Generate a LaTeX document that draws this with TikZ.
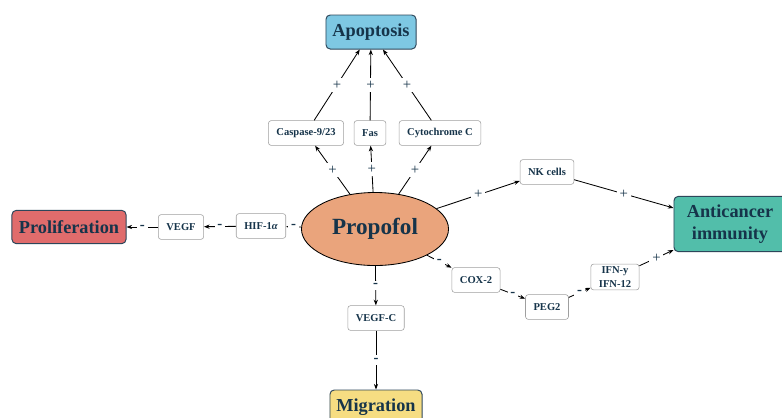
\documentclass[tikz,border=0pt]{standalone}
\usepackage{fontspec}
\setmainfont{Liberation Serif}
\usetikzlibrary{positioning, shapes.geometric, arrows.meta}
\definecolor{navyText}{RGB}{22, 52, 74}
\definecolor{boxEdge}{RGB}{45, 70, 90}
\definecolor{apopBlue}{RGB}{126, 200, 227}
\definecolor{prolRed}{RGB}{224, 108, 108}
\definecolor{immuGreen}{RGB}{82, 190, 170}
\definecolor{migrYellow}{RGB}{246, 221, 130}
\definecolor{propOrange}{RGB}{234, 164, 124}

\begin{document}
\begin{tikzpicture}[
    x=0.025cm, y=-0.025cm,
    outcome/.style={rectangle, draw=boxEdge, line width=0.7pt, rounded corners=3pt,
                    font=\fontsize{13}{16}\selectfont\bfseries, text=navyText,
                    align=center, inner sep=0pt},
    factor/.style={rectangle, draw=gray!75, fill=white, rounded corners=2pt,
                   font=\fontsize{7.5}{9.5}\selectfont\bfseries, text=navyText,
                   align=center, inner xsep=0.2cm, inner ysep=2pt, minimum height=0.62cm},
    drug/.style={ellipse, draw=black, line width=0.6pt, fill=propOrange, inner sep=0pt,
                 minimum width=3.675cm, minimum height=1.825cm,
                 font=\fontsize{16.5}{18}\selectfont\bfseries, text=navyText},
    link/.style={-{Stealth[length=4pt, width=3pt]}, line width=0.6pt, black},
    effect/.style={midway, fill=white, inner sep=2pt,
                   font=\fontsize{10.5}{10.5}\selectfont, text=navyText},
  ]
    \useasboundingbox (0,0) rectangle (782,417);

    % Propofol
    \node[drug] (propofol) at (375,229) {Propofol};

    % Outcomes
    \node[outcome, fill=apopBlue, minimum width=2.25cm, minimum height=0.85cm] (apoptosis) at (371,32) {Apoptosis};
    \node[outcome, fill=prolRed, minimum width=2.85cm, minimum height=0.83cm] (prolif) at (69,227) {Proliferation};
    \node[outcome, fill=immuGreen, minimum width=2.8cm, minimum height=1.38cm] (immunity) at (730,224) {Anticancer\\immunity};
    \node[outcome, fill=migrYellow, minimum width=2.3cm, minimum height=0.85cm] (migration) at (376,407) {Migration};

    % Apoptosis branch
    \foreach \x/\name/\txt in {306/casp/{Caspase-9/23}, 370/fas/Fas, 440/cytc/Cytochrome C} {
      \node[factor] (\name) at (\x,133) {\txt};
      \draw[link] (propofol) -- node[effect] {+} (\name);
      \draw[link] (\name) -- node[effect] {+} (apoptosis);
    }

    % Proliferation branch
    \node[factor] (hif) at (261,226) {HIF-1\textit{α}};
    \node[factor] (vegf) at (181,227) {VEGF};
    \draw[link] (propofol) -- node[effect] {\textbf{-}} (hif);
    \draw[link] (hif) -- node[effect] {\textbf{-}} (vegf);
    \draw[link] (vegf) -- node[effect] {\textbf{-}} (prolif);

    % Migration branch
    \node[factor] (vegfc) at (376,318) {VEGF-C};
    \draw[link] (propofol) -- node[effect] {\textbf{-}} (vegfc);
    \draw[link] (vegfc) -- node[effect] {\textbf{-}} (migration);

    % Immunity branch
    \node[factor] (nk) at (547,172) {NK cells};
    \node[factor] (cox) at (476,280) {COX-2};
    \node[factor] (peg) at (547,307) {PEG2};
    \node[factor] (ifn) at (615,277) {IFN-y\\IFN-12};
    \draw[link] (propofol) -- node[effect] {+} (nk);
    \draw[link] (nk) -- node[effect] {+} (immunity);
    \draw[link] (propofol) -- node[effect] {\textbf{-}} (cox);
    \draw[link] (cox) -- node[effect] {\textbf{-}} (peg);
    \draw[link] (peg) -- node[effect] {\textbf{-}} (ifn);
    \draw[link] (ifn) -- node[effect] {+} (immunity);
  \end{tikzpicture}
\end{document}
